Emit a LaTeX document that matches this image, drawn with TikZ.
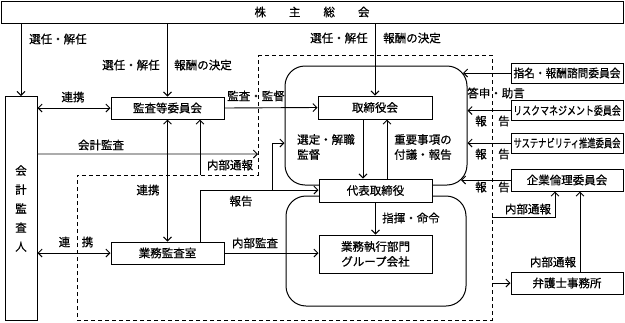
\documentclass[tikz,border=0pt]{standalone}
\usepackage{fontspec}
\usepackage{graphicx}
\setmainfont{Noto Sans CJK JP}[FakeBold=0.6]
\usetikzlibrary{arrows.meta}
\begin{document}
\begin{tikzpicture}[x=1pt,y=-1pt,
  every node/.style={font=\fontsize{11.5}{15}\selectfont, inner sep=0pt},
  box/.style={draw, line width=1pt, fill=white, minimum width=113pt, minimum height=22pt},
  rbox/.style={draw, line width=1pt, fill=white, minimum width=112pt, minimum height=20pt},
  arr/.style={line width=0.9pt, -{Straight Barb[length=4pt,width=8pt,line width=0.9pt]}},
  darr/.style={line width=0.9pt, {Straight Barb[length=4pt,width=8pt,line width=0.9pt]}-{Straight Barb[length=4pt,width=8pt,line width=0.9pt]}},
  garr/.style={line width=2pt, gray!65, -{Straight Barb[length=4pt,width=8pt,line width=0.9pt,color=black]}},
  dashline/.style={line width=1pt, dash pattern=on 4pt off 3pt},
  roundframe/.style={draw, line width=1pt, rounded corners=20pt}
]
\useasboundingbox (0,0) rectangle (625,322);

% frames
\node[roundframe, minimum width=182pt, minimum height=119pt] (bd) at (376,125.5) {};
\node[roundframe, minimum width=180pt, minimum height=110pt] (ex) at (376,251) {};

% company (dashed) region
\coordinate (d1) at (258,55);
\coordinate (d2) at (492,55);
\coordinate (d3) at (492,320);
\coordinate (d4) at (77,320);
\coordinate (d5) at (77,175);
\coordinate (d6) at (258,175);
\draw[dashline] (d1) -- (d2) -- (d3) -- (d4) -- (d5) -- (d6) -- cycle;

% boxes
\node[draw, line width=1pt, fill=white, minimum width=622pt, minimum height=22pt] (top) at (312,12) {株　　主　　総　　会};
\node[draw, line width=1pt, fill=white, minimum width=32pt, minimum height=224pt, align=center, font=\fontsize{11.5}{19}\selectfont] (kaikei) at (21,208.5) {会\\計\\監\\査\\人};
\node[box] (kansa) at (167.5,108) {監査等委員会};
\node[box] (gyomu) at (167.5,253) {業務監査室};
\node[box, minimum width=114pt, minimum height=23pt] (tk) at (375,107.5) {取締役会};
\node[box, minimum height=23pt] (daihyo) at (375.5,190.5) {代表取締役};
\node[box, minimum height=38pt, align=center] (shikko) at (375.5,254) {業務執行部門\\グループ会社};
\node[rbox] (shimei) at (567,73) {\scalebox{0.93}[1]{指名・報酬諮問委員会}};
\node[rbox] (risk) at (567,110.5) {\scalebox{0.78}[1]{リスクマネジメント委員会}};
\node[rbox] (sus) at (567,143) {\scalebox{0.72}[1]{サステナビリティ推進委員会}};
\node[box, minimum width=112pt] (kigyo) at (567,180) {企業倫理委員会};
\node[box, minimum width=112pt] (bengo) at (567,283) {弁護士事務所};

% arrows from shareholders
\draw[arr] (kaikei.north |- top.south) -- (kaikei.north);
\draw[arr] (kansa.north |- top.south) -- (kansa.north);
\draw[arr] (tk.north |- top.south) -- (tk.north);

% left side
\draw[darr] (kaikei.east |- kansa.west) -- (kansa.west);
\draw[arr] (kansa.east) -- (tk.west);
\coordinate (ka) at (258,154);
\draw[garr] (kaikei.east |- ka) -- (ka);
\draw[darr] (kansa.south) -- (gyomu.north);
\coordinate (nb) at (200,175);
\draw[arr] (nb) -- (nb |- kansa.south);
\draw[darr] (kaikei.east |- gyomu.west) -- (gyomu.west);
\draw[arr] (gyomu.east) -- (gyomu.east -| shikko.west);
\coordinate (rp) at (200,190);
\coordinate (rb) at (272,190);
\coordinate (rb2) at (272,143);
\draw[arr] (gyomu.north -| rp) -- (rp) -- (rp -| daihyo.west);
\draw[arr] (rb) -- (rb2) -- (rb2 -| bd.west);

% board internal
\coordinate (dn) at (363,150);
\coordinate (up) at (387,150);
\draw[arr] (tk.south -| dn) -- (daihyo.north -| dn);
\draw[arr] (daihyo.north -| up) -- (tk.south -| up);
\draw[arr] (daihyo.south -| shikko.north) -- (shikko.north);

% right committees
\coordinate (e1) at (463,73);
\coordinate (e4) at (461,180);
\draw[arr] (shimei.west) -- (e1);
\draw[arr] (risk.west) -- (risk.west -| bd.east);
\draw[arr] (sus.west) -- (sus.west -| bd.east);
\draw[arr] (kigyo.west) -- (e4);
\coordinate (nb2) at (492,217);
\coordinate (nb3) at (555,217);
\draw[arr] (nb2) -- (nb3) -- (nb3 |- kigyo.south);
\coordinate (bg) at (580,230);
\draw[arr] (bengo.north -| bg) -- (kigyo.south -| bg);
\coordinate (bw) at (492,283);
\draw[arr] (bw) -- (bengo.west);

% labels
\node (l1) at (58,39) {選任・解任};
\node (l2) at (131,65) {選任・解任};
\node (l3) at (203,65) {報酬の決定};
\node (l4) at (339,38) {選任・解任};
\node (l5) at (412,38) {報酬の決定};
\node (l6) at (73,97) {連携};
\node (l7) at (256,96) {監査・監督};
\node (l8) at (101,145) {会計監査};
\node (l9) at (230,165) {内部通報};
\node (l10) at (148,190) {連携};
\node (l11) at (76,242) {連　携};
\node (l12) at (241,201) {報告};
\node (l13) at (255,243) {内部監査};
\node[anchor=north west, align=left] (l14) at (297,134) {選定・解職\\監督};
\node[anchor=north west, align=left] (l15) at (394,134) {重要事項の\\付議・報告};
\node (l16) at (411,218) {指揮・命令};
\node (l17) at (496,93) {答申・助言};
\node (l18) at (492.5,121) {報　告};
\node (l19) at (492.5,154) {報　告};
\node (l20) at (492.5,187) {報　告};
\node (l21) at (528,209) {内部通報};
\node (l22) at (553,262) {内部通報};
\end{tikzpicture}
\end{document}
